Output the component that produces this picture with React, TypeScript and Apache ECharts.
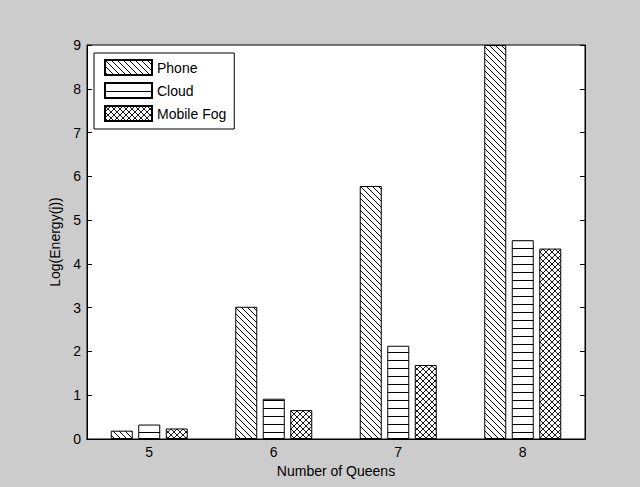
import React, { useEffect, useRef } from "react";
import * as echarts from "echarts";

const categories = ["5", "6", "7", "8"];
const phone = [0.19, 3.02, 5.78, 9.0];
const cloud = [0.33, 0.92, 2.13, 4.54];
const mobileFog = [0.24, 0.66, 1.69, 4.35];
const yTicks = [0, 1, 2, 3, 4, 5, 6, 7, 8, 9];

function svgUrl(w: number, h: number, body: string) {
  const s = `<svg xmlns="http://www.w3.org/2000/svg" width="${w}" height="${h}"><rect width="${w}" height="${h}" fill="#fff"/>${body}</svg>`;
  return "data:image/svg+xml;charset=utf-8," + encodeURIComponent(s);
}

function makePattern(w: number, h: number, body: string) {
  return {
    image: svgUrl(w, h, body),
    repeat: "repeat",
    imageWidth: w,
    imageHeight: h,
  } as any;
}

const phonePattern = makePattern(
  6,
  6,
  `<path d="M0,0L6,6M-1,5L1,7M5,-1L7,1" stroke="#000" stroke-width="1"/>`
);
const cloudPattern = makePattern(
  8,
  8,
  `<path d="M0,0.5L8,0.5" stroke="#000" stroke-width="1"/>`
);
const fogPattern = makePattern(
  6,
  6,
  `<path d="M0,0L6,6M-1,5L1,7M5,-1L7,1M0,6L6,0M-1,1L1,-1M5,7L7,5" stroke="#000" stroke-width="0.9"/>`
);

export default function App() {
  const ref = useRef<HTMLDivElement>(null);
  useEffect(() => {
    if (!ref.current) return;
    const chart = echarts.init(ref.current, undefined, { renderer: "svg" });
    const font = "Liberation Sans, Arial, Helvetica, sans-serif";
    const barStyle = (c: any) => ({
      color: c,
      borderColor: "#000",
      borderWidth: 1,
    });
    chart.setOption({
      animation: false,
      backgroundColor: "#cccccc",
      textStyle: { fontFamily: font, color: "#000" },
      grid: {
        left: 87,
        right: 55,
        top: 45,
        bottom: 48,
        show: true,
        backgroundColor: "#fff",
        borderColor: "#000",
        borderWidth: 1,
      },
      legend: {
        orient: "vertical",
        left: 94,
        top: 53,
        backgroundColor: "#fff",
        borderColor: "#000",
        borderWidth: 1,
        padding: [6, 8, 7, 10],
        itemWidth: 47,
        itemHeight: 15,
        itemGap: 6,
        icon: "rect",
        textStyle: { fontFamily: font, fontSize: 14, color: "#000" },
        data: ["Phone", "Cloud", "Mobile Fog"],
      },
      xAxis: [
        {
          type: "category",
          data: categories,
          position: "bottom",
          name: "Number of Queens",
          nameLocation: "middle",
          nameGap: 25,
          nameTextStyle: { fontFamily: font, fontSize: 14, color: "#000" },
          axisLine: { lineStyle: { color: "#000" } },
          axisTick: { inside: true, alignWithLabel: true, length: 5, lineStyle: { color: "#000" } },
          axisLabel: { fontFamily: font, fontSize: 14, color: "#000", margin: 6 },
        },
        {
          type: "category",
          data: categories,
          position: "top",
          axisLine: { lineStyle: { color: "#000" } },
          axisTick: { inside: true, alignWithLabel: true, length: 5, lineStyle: { color: "#000" } },
          axisLabel: { show: false },
        },
      ],
      yAxis: [
        {
          type: "value",
          min: yTicks[0],
          max: yTicks[yTicks.length - 1],
          interval: 1,
          position: "left",
          name: "Log(Energy(j))",
          nameLocation: "middle",
          nameGap: 22,
          nameTextStyle: { fontFamily: font, fontSize: 14, color: "#000" },
          axisLine: { show: true, lineStyle: { color: "#000" } },
          axisTick: { show: true, inside: true, length: 5, lineStyle: { color: "#000" } },
          axisLabel: { fontFamily: font, fontSize: 14, color: "#000", margin: 6 },
          splitLine: { show: false },
        },
        {
          type: "value",
          min: yTicks[0],
          max: yTicks[yTicks.length - 1],
          interval: 1,
          position: "right",
          axisLine: { show: true, lineStyle: { color: "#000" } },
          axisTick: { show: true, inside: true, length: 5, lineStyle: { color: "#000" } },
          axisLabel: { show: false },
          splitLine: { show: false },
        },
      ],
      series: [
        {
          name: "Phone",
          type: "bar",
          data: phone,
          barWidth: 22,
          barGap: "25%",
          itemStyle: barStyle(phonePattern),
        },
        {
          name: "Cloud",
          type: "bar",
          data: cloud,
          barWidth: 22,
          barGap: "25%",
          itemStyle: barStyle(cloudPattern),
        },
        {
          name: "Mobile Fog",
          type: "bar",
          data: mobileFog,
          barWidth: 22,
          barGap: "25%",
          itemStyle: barStyle(fogPattern),
        },
      ],
    });
    return () => chart.dispose();
  }, []);
  return (
    <div
      ref={ref}
      style={{ position: "fixed", left: 0, top: 0, width: 640, height: 487 }}
    />
  );
}
